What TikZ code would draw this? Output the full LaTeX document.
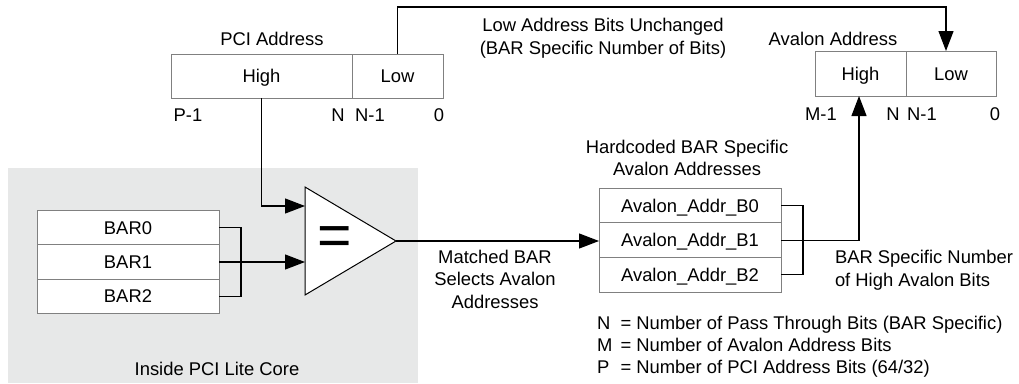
\documentclass[tikz,border=0pt]{standalone}
\usepackage{fontspec}
\setmainfont{Liberation Sans}
\usetikzlibrary{arrows.meta}
\definecolor{coregray}{RGB}{231,232,232}
\definecolor{boxline}{RGB}{128,128,128}
\begin{document}
\begin{tikzpicture}[x=1pt,y=-1pt,
  every node/.style={font=\fontsize{18.4}{22.5}\selectfont, inner sep=0pt, outer sep=0pt},
  cell/.style={draw=boxline, line width=1pt, fill=white, text height=13.2pt, text depth=0pt, align=center},
  lbl/.style={anchor=base, align=center},
  conn/.style={draw=black, line width=1.2pt},
  arr/.style={conn, -{Triangle[length=20pt,width=15pt]}},
  tri/.style={draw=black, line width=1pt, fill=white, line join=miter}
]
\useasboundingbox (0,0) rectangle (1019,383);
% core background
\fill[coregray] (8,168) rectangle (418,383);
\node[lbl] (corelbl) at (217,375) {Inside PCI Lite Core};

% PCI address
\node[lbl] (pcilbl) at (272,45.5) {PCI Address};
\node[cell, minimum width=181pt, minimum height=44pt] (pcih) at (261.5,76) {High};
\node[cell, minimum width=91pt, minimum height=44pt] (pcil) at (397.5,76) {Low};
\node[lbl] (pp1) at (188,121) {P-1};
\node[lbl] (pn) at (338,121) {N};
\node[lbl] (pn1) at (370,121) {N-1};
\node[lbl] (p0) at (439,121) {0};

% Avalon address
\node[lbl] (avllbl) at (833,45) {Avalon Address};
\node[cell, minimum width=91pt, minimum height=45pt] (avlh) at (860.5,73.5) {High};
\node[cell, minimum width=90pt, minimum height=45pt] (avll) at (951,73.5) {Low};
\node[lbl] (am1) at (821,120) {M-1};
\node[lbl] (an) at (893,120) {N};
\node[lbl] (an1) at (922,120) {N-1};
\node[lbl] (a0) at (995,120) {0};

% Low-bits label (base = last line)
\node[lbl] (lowlbl) at (603,54) {Low Address Bits Unchanged\\(BAR Specific Number of Bits)};

% BAR registers
\node[cell, minimum width=182pt, minimum height=34.33pt] (bar0) at (128,227.7) {BAR0};
\node[cell, minimum width=182pt, minimum height=34.33pt] (bar1) at (128,262) {BAR1};
\node[cell, minimum width=182pt, minimum height=34.33pt] (bar2) at (128,296.3) {BAR2};

% comparator
\coordinate (cmpA) at (305,187);
\coordinate (cmpB) at (305,295);
\coordinate (cmpC) at (396,241);
\draw[tri] (cmpA) -- (cmpC) -- (cmpB) -- cycle;
\node[anchor=base, font=\fontsize{59}{59}\selectfont] (eq) at (334.5,255) {=};

% hardcoded avalon addresses
\node[lbl] (hclbl) at (687,175.7) {Hardcoded BAR Specific\\Avalon Addresses};
\node[cell, minimum width=182pt, minimum height=34.7pt] (aab0) at (690,205.4) {Avalon\_Addr\_B0};
\node[cell, minimum width=182pt, minimum height=34.7pt] (aab1) at (690,240.1) {Avalon\_Addr\_B1};
\node[cell, minimum width=182pt, minimum height=34.7pt] (aab2) at (690,274.8) {Avalon\_Addr\_B2};

\node[lbl] (matchlbl) at (495,308.3) {Matched BAR\\Selects Avalon\\Addresses};
\node[lbl, anchor=base west, align=left] (hibitslbl) at (835,286) {BAR Specific Number\\of High Avalon Bits};

% legend
\node[anchor=base west, align=left, font=\fontsize{18.4}{21.7}\selectfont] (legend) at (597,373.3)
  {\makebox[23.5pt][l]{N}= Number of Pass Through Bits (BAR Specific)\\
   \makebox[23.5pt][l]{M}= Number of Avalon Address Bits\\
   \makebox[23.5pt][l]{P}= Number of PCI Address Bits (64/32)};

% connectors
\coordinate (toprow) at (0,7);
\draw[arr] (pcil.north) -- (pcil.north |- toprow) -| ([xshift=-5pt]avll.north);
\draw[arr] (pcih.south) |- (cmpA |- 0,206);
\draw[conn] (bar0.east) -- ++(22,0) |- (bar2.east);
\draw[arr] (bar1.east) -- (bar1.east -| cmpA);
\draw[arr] (cmpC) -- (cmpC -| aab1.west);
\draw[conn] (aab0.east) -- ++(22,0) |- (aab2.east);
\draw[arr] (aab1.east) -| ([xshift=-1.5pt]avlh.south);
\end{tikzpicture}
\end{document}
